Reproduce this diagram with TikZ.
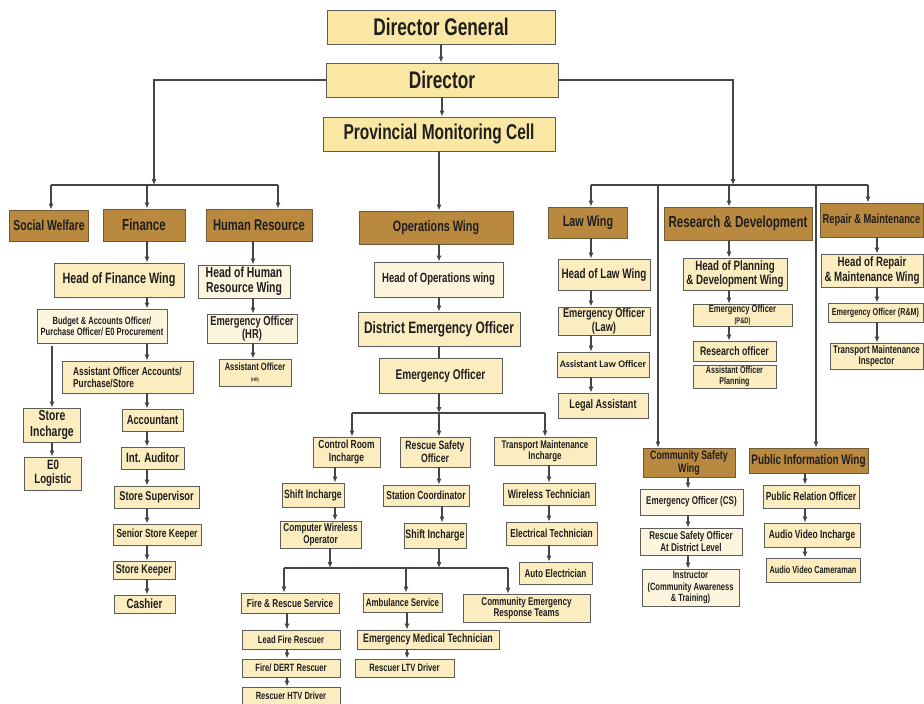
\documentclass[tikz,border=0pt]{standalone}
\usepackage{fontspec}
\setmainfont{Liberation Sans}[FakeStretch=0.72]
\newfontfamily\calb{Carlito}
\usetikzlibrary{arrows.meta}

\definecolor{boxline}{HTML}{5C5C5C}
\definecolor{boxfill}{HTML}{FBEDC0}
\definecolor{boxpale}{HTML}{FDF5DE}
\definecolor{boxtop}{HTML}{FBE7A4}
\definecolor{boxdark}{HTML}{B8893E}
\definecolor{boxdarkline}{HTML}{6E5A36}
\definecolor{textdark}{HTML}{1F1F1F}
\definecolor{linec}{HTML}{454545}

% font size helper: bold condensed text at the given size
\newcommand\fz[1]{\fontsize{#1pt}{1.05\dimexpr#1pt\relax}\selectfont\bfseries}

\tikzset{
  base/.style={draw=boxline, line width=0.9pt, rectangle, inner sep=0pt,
               align=center, text=textdark},
  lt/.style={base, fill=boxfill},
  pale/.style={base, fill=boxpale},
  topbox/.style={base, fill=boxtop},
  dk/.style={base, fill=boxdark, draw=boxdarkline},
  sz/.style 2 args={minimum width=#1pt, minimum height=#2pt},
  ln/.style={draw=linec, line width=1.1pt},
  arr/.style={ln, -{Latex[length=6pt,width=5pt]}},
}

\begin{document}
\begin{tikzpicture}[x=1pt,y=-1pt]
\fill[white] (0,0) rectangle (924,704);
\useasboundingbox (0,0) rectangle (924,704);

% ---------------- top of the hierarchy ----------------
\node[topbox, sz={228}{34}, font=\fz{24}] (dg)  at (441,27)  {Director General};
\node[topbox, sz={232}{34}, font=\fz{24}] (dir) at (442,80)  {Director};
\node[topbox, sz={232}{34}, font=\fz{21.5}] (pmc) at (439,134) {Provincial Monitoring Cell};

% ---------------- wing headers ----------------
\node[dk, sz={79}{31},  font=\fz{14.5}] (sw)  at (49,225.5)  {Social Welfare};
\node[dk, sz={82}{32},  font=\fz{16}]   (fin) at (144,225)   {Finance};
\node[dk, sz={106}{32}, font=\fz{15.5}] (hr)  at (259,225)   {Human Resource};
\node[dk, sz={154}{33}, font=\fz{15}]   (ops) at (436,227.5) {Operations Wing};
\node[dk, sz={79}{31},  font=\fz{15}]   (law) at (588,222.5) {Law Wing};
\node[dk, sz={148}{33}, font=\fz{16}]   (rd)  at (738,223.5) {Research \& Development};
\node[dk, sz={103}{34}, font=\fz{13}]   (rm)  at (871.5,220) {Repair \& Maintenance};

% ---------------- finance ----------------
\node[lt,   sz={130}{34}, font=\fz{15}]   (hfw)  at (119,280) {Head of Finance Wing};
\node[pale, sz={130}{34}, font=\fz{10.5}] (bud)  at (102,326) {Budget \& Accounts Officer/\\Purchase Officer/ E0 Procurement};
\node[lt,   sz={131}{32}, font=\fz{11.5}, align=left] (aoa) at (127.5,377) {Assistant Officer Accounts/\\Purchase/Store};
\node[lt,   sz={57}{34},  font=\fz{14.5}] (sti)  at (52,425)  {Store\\Incharge};
\node[lt,   sz={57}{33},  font=\fz{13.5}] (eol)  at (53,473.5) {E0\\Logistic};
\node[lt,   sz={61}{22},  font=\fz{13}]   (acc)  at (152.5,420) {Accountant};
\node[lt,   sz={63}{22},  font=\fz{13.5}] (ia)   at (152.5,458) {Int. Auditor};
\node[lt,   sz={85}{22},  font=\fz{12.8}] (ss)   at (156.5,497) {Store Supervisor};
\node[lt,   sz={88}{21},  font=\fz{11.7}] (ssk)  at (157,534.5) {Senior Store Keeper};
\node[lt,   sz={62}{18},  font=\fz{12.5}] (sk)   at (144,570) {Store Keeper};
\node[lt,   sz={61}{18},  font=\fz{13.5}] (cash) at (144.5,604) {Cashier};

% ---------------- human resource ----------------
\node[pale, sz={92}{33}, font=\fz{14.5}] (hhr)  at (244,281.5) {Head of Human\\Resource Wing};
\node[pale, sz={90}{29}, font=\fz{13}]   (eohr) at (252,328.5) {Emergency Officer\\(HR)};
\node[lt,   sz={72}{27}, font=\fz{10.5}] (aohr) at (255,372.5) {Assistant Officer\\{\fz{5}(HR)}};

% ---------------- operations ----------------
\node[pale, sz={129}{35}, font=\fz{13.3}] (hop) at (438.5,279.5) {Head of Operations wing};
\node[lt,   sz={162}{34}, font=\fz{16.5}] (deo) at (439,329)   {District Emergency Officer};
\node[lt,   sz={123}{35}, font=\fz{14}]   (eo)  at (440.5,375.5) {Emergency Officer};

\node[lt, sz={67}{30},  font=\fz{11.7}] (cri) at (346.5,452) {Control Room\\Incharge};
\node[lt, sz={70}{30},  font=\fz{12}]   (rso) at (435,452)   {Rescue Safety\\Officer};
\node[lt, sz={102}{28}, font=\fz{11}]   (tmi) at (545,451)   {Transport Maintenance\\Incharge};

\node[lt, sz={62}{24}, font=\fz{12}]   (si1) at (313,495)    {Shift Incharge};
\node[lt, sz={81}{27}, font=\fz{11.3}] (cwo) at (320.5,534.5) {Computer Wireless\\Operator};
\node[lt, sz={86}{21}, font=\fz{11.7}] (sc)  at (426,495.5)  {Station Coordinator};
\node[lt, sz={62}{25}, font=\fz{12.3}] (si2) at (435,535.5)  {Shift Incharge};
\node[lt, sz={92}{22}, font=\fz{12}]   (wt)  at (549,494)    {Wireless Technician};
\node[lt, sz={91}{23}, font=\fz{11.6}] (et)  at (551.5,533.5) {Electrical Technician};
\node[lt, sz={73}{22}, font=\fz{11.3}] (ae)  at (555.5,573)  {Auto Electrician};

\node[lt, sz={98}{20},  font=\fz{11.4}] (frs)  at (290,603)   {Fire \& Rescue Service};
\node[lt, sz={98}{19},  font=\fz{10.6}] (lfr)  at (291,639.5) {Lead Fire Rescuer};
\node[lt, sz={98}{18},  font=\fz{10.6}] (fdr)  at (291,668)   {Fire/ DERT Rescuer};
\node[lt, sz={98}{17},  font=\fz{10.4}] (rhd)  at (291,695.5) {Rescuer HTV Driver};
\node[lt, sz={79}{19},  font=\fz{11}]   (amb)  at (402.5,602.5) {Ambulance Service};
\node[lt, sz={142}{19}, font=\fz{12.2}] (emt)  at (428,639.5) {Emergency Medical Technician};
\node[lt, sz={99}{18},  font=\fz{10.6}] (rld)  at (404.5,668) {Rescuer LTV Driver};
\node[lt, sz={127}{28}, font=\fz{11.2}] (cert) at (526.5,608) {Community Emergency\\Response Teams};

% ---------------- law ----------------
\node[lt, sz={92}{31}, font=\fz{13.7}] (hlw)  at (604,274.5) {Head of Law Wing};
\node[lt, sz={92}{28}, font=\fz{12.8}] (eolw) at (604,321)   {Emergency Officer\\(Law)};
\node[lt, sz={92}{25}, font={\calb\fontsize{10pt}{11pt}\selectfont\bfseries}] (alo) at (603,364.5) {Assistant Law Officer};
\node[lt, sz={90}{25}, font=\fz{12.6}] (la)   at (603,405.5) {Legal Assistant};

% ---------------- research & development ----------------
\node[lt, sz={104}{32}, font=\fz{13.5}] (hpd)  at (735,274)   {Head of Planning\\\& Development Wing};
\node[lt, sz={99}{22},  font=\fz{10.5}] (eopd) at (742.5,315) {Emergency Officer\\{\fz{8}(P\&D)}};
\node[lt, sz={83}{20},  font=\fz{12.2}] (ro)   at (734.5,351) {Research officer};
\node[lt, sz={83}{23},  font=\fz{9.9}]  (aop)  at (734.5,376.5) {Assistant Officer\\Planning};

% ---------------- repair & maintenance ----------------
\node[lt, sz={102}{33}, font=\fz{13.5}] (hrm)  at (872,270.5) {Head of Repair\\\& Maintenance Wing};
\node[lt, sz={95}{19},  font=\fz{10}]   (eorm) at (875.5,312.5) {Emergency Officer (R\&M)};
\node[lt, sz={93}{26},  font=\fz{11}]   (tmin) at (876.5,356) {Transport Maintenance\\Inspector};

% ---------------- community safety ----------------
\node[dk,   sz={92}{29},  font=\fz{12.3}] (csw)  at (689,462.5) {Community Safety\\Wing};
\node[pale, sz={103}{26}, font=\fz{11.2}] (eocs) at (691.5,502) {Emergency Officer (CS)};
\node[pale, sz={102}{27}, font=\fz{11.2}] (rsod) at (691,541.5) {Rescue Safety Officer\\At District Level};
\node[pale, sz={97}{37},  font=\fz{10.5}] (ins)  at (690.5,587.5) {Instructor\\(Community Awareness\\\& Training)};

% ---------------- public information ----------------
\node[dk, sz={119}{25}, font=\fz{13.8}] (piw) at (808.5,460.5) {Public Information Wing};
\node[lt, sz={96}{23},  font=\fz{11.7}] (pro) at (811,496.5) {Public Relation Officer};
\node[lt, sz={96}{24},  font=\fz{11.7}] (avi) at (812,535)   {Audio Video Incharge};
\node[lt, sz={94}{24},  font=\fz{10.2}] (avc) at (813,570)   {Audio Video Cameraman};

% ---------------- column positions of the vertical links ----------------
\coordinate (xF)  at (147,0);
\coordinate (xH)  at (253,0);
\coordinate (xO)  at (439,0);
\coordinate (xCR) at (335,0);
\coordinate (xSC) at (442,0);
\coordinate (xT)  at (549,0);
\coordinate (xFR) at (287,0);
\coordinate (xA)  at (407,0);
\coordinate (xL)  at (591,0);
\coordinate (xR)  at (729,0);
\coordinate (xM)  at (877,0);
\coordinate (xC)  at (688,0);
\coordinate (xP)  at (805,0);

% ---------------- top links ----------------
\draw[arr] (dg.south) -- (dg.south |- dir.north);
\draw[arr] (dir.south) -- (dir.south |- pmc.north);
\draw[arr] (pmc.south) -- (pmc.south |- ops.north);

% left branch from the Director
\coordinate (lj)  at (154,185);
\coordinate (lb1) at (51,185);
\coordinate (lb2) at (147,185);
\coordinate (lb3) at (278,185);
\draw[arr] (dir.west) -| (lj);
\draw[ln] (lb1) -- (lb3);
\draw[arr] (lb1) -- (lb1 |- sw.north);
\draw[arr] (lb2) -- (lb2 |- fin.north);
\draw[arr] (lb3) -- (lb3 |- hr.north);

% right branch from the Director
\coordinate (rj)  at (733,185);
\coordinate (rb1) at (591,185);
\coordinate (rb2) at (729,185);
\coordinate (rb3) at (868,185);
\coordinate (rb4) at (658,185);
\coordinate (rb5) at (816,185);
\draw[arr] (dir.east) -| (rj);
\draw[ln] (rb1) -- (rb3);
\draw[arr] (rb1) -- (rb1 |- law.north);
\draw[arr] (rb2) -- (rb2 |- rd.north);
\draw[arr] (rb3) -- (rb3 |- rm.north);
\draw[arr] (rb4) -- (rb4 |- csw.north);
\draw[arr] (rb5) -- (rb5 |- piw.north);

% ---------------- finance links ----------------
\draw[arr] (fin.south -| xF) -- (hfw.north -| xF);
\draw[arr] (hfw.south -| xF) -- (bud.north -| xF);
\draw[arr] (bud.south -| xF) -- (aoa.north -| xF);
\draw[arr] (aoa.south -| xF) -- (acc.north -| xF);
\draw[arr] (acc.south -| xF) -- (ia.north -| xF);
\draw[arr] (ia.south -| xF) -- (ss.north -| xF);
\draw[arr] (ss.south -| xF) -- (ssk.north -| xF);
\draw[arr] (ssk.south -| xF) -- (sk.north -| xF);
\draw[arr] (sk.south -| xF) -- (cash.north -| xF);
\draw[arr] ([yshift=-3pt]bud.south -| sti.north) -- (sti.north);
\draw[arr] (sti.south) -- (sti.south |- eol.north);

% ---------------- human resource links ----------------
\draw[arr] (hr.south -| xH) -- (hhr.north -| xH);
\draw[arr] (hhr.south -| xH) -- (eohr.north -| xH);
\draw[arr] (eohr.south -| xH) -- (aohr.north -| xH);

% ---------------- operations links ----------------
\draw[arr] (ops.south -| xO) -- (hop.north -| xO);
\draw[arr] (hop.south -| xO) -- (deo.north -| xO);
\draw[ln]  (deo.south -| xO) -- (eo.north -| xO);

\coordinate (ob)  at (439,413);
\coordinate (ob1) at (352,413);
\coordinate (ob3) at (545,413);
\draw[arr] (eo.south -| xO) -- (ob);
\draw[ln] (ob1) -- (ob3);
\draw[arr] (ob1) -- (ob1 |- cri.north);
\draw[arr] (ob) -- (ob |- rso.north);
\draw[arr] (ob3) -- (ob3 |- tmi.north);

\draw[arr] (cri.south -| xCR) -- (si1.north -| xCR);
\draw[arr] (si1.south -| xCR) -- (cwo.north -| xCR);
\draw[arr] (rso.south -| xO) -- (sc.north -| xO);
\draw[arr] (sc.south -| xSC) -- (si2.north -| xSC);
\draw[arr] (tmi.south -| xT) -- (wt.north -| xT);
\draw[arr] (wt.south -| xT) -- (et.north -| xT);
\draw[arr] (et.south -| xT) -- (ae.north -| xT);

\coordinate (lj2) at (330,568);
\coordinate (lj3) at (439,568);
\coordinate (lb4) at (284,568);
\coordinate (lb5) at (406,568);
\coordinate (lb6) at (508,568);
\draw[arr] (cwo.south -| lj2) -- (lj2);
\draw[arr] (si2.south -| lj3) -- (lj3);
\draw[ln] (lb4) -- (lb6);
\draw[arr] (lb4) -- (lb4 |- frs.north);
\draw[arr] (lb5) -- (lb5 |- amb.north);
\draw[arr] (lb6) -- (lb6 |- cert.north);

\draw[arr] (frs.south -| xFR) -- (lfr.north -| xFR);
\draw[arr] (lfr.south -| xFR) -- (fdr.north -| xFR);
\draw[arr] (fdr.south -| xFR) -- (rhd.north -| xFR);
\draw[arr] (amb.south -| xA) -- (emt.north -| xA);
\draw[arr] (emt.south -| xA) -- (rld.north -| xA);

% ---------------- law links ----------------
\draw[arr] (law.south -| xL) -- (hlw.north -| xL);
\draw[arr] (hlw.south -| xL) -- (eolw.north -| xL);
\draw[arr] (eolw.south -| xL) -- (alo.north -| xL);
\draw[arr] (alo.south -| xL) -- (la.north -| xL);

% ---------------- research & development links ----------------
\draw[arr] (rd.south -| xR) -- (hpd.north -| xR);
\draw[arr] (hpd.south -| xR) -- (eopd.north -| xR);
\draw[arr] (eopd.south -| xR) -- (ro.north -| xR);

% ---------------- repair & maintenance links ----------------
\draw[arr] (rm.south -| xM) -- (hrm.north -| xM);
\draw[arr] (hrm.south -| xM) -- (eorm.north -| xM);
\draw[arr] (eorm.south -| xM) -- (tmin.north -| xM);

% ---------------- community safety links ----------------
\draw[arr] (csw.south -| xC) -- (eocs.north -| xC);
\draw[arr] (eocs.south -| xC) -- (rsod.north -| xC);
\draw[arr] (rsod.south -| xC) -- (ins.north -| xC);

% ---------------- public information links ----------------
\draw[arr] (piw.south -| xP) -- (pro.north -| xP);
\draw[arr] (pro.south -| xP) -- (avi.north -| xP);
\draw[arr] (avi.south -| xP) -- (avc.north -| xP);
\end{tikzpicture}
\end{document}
